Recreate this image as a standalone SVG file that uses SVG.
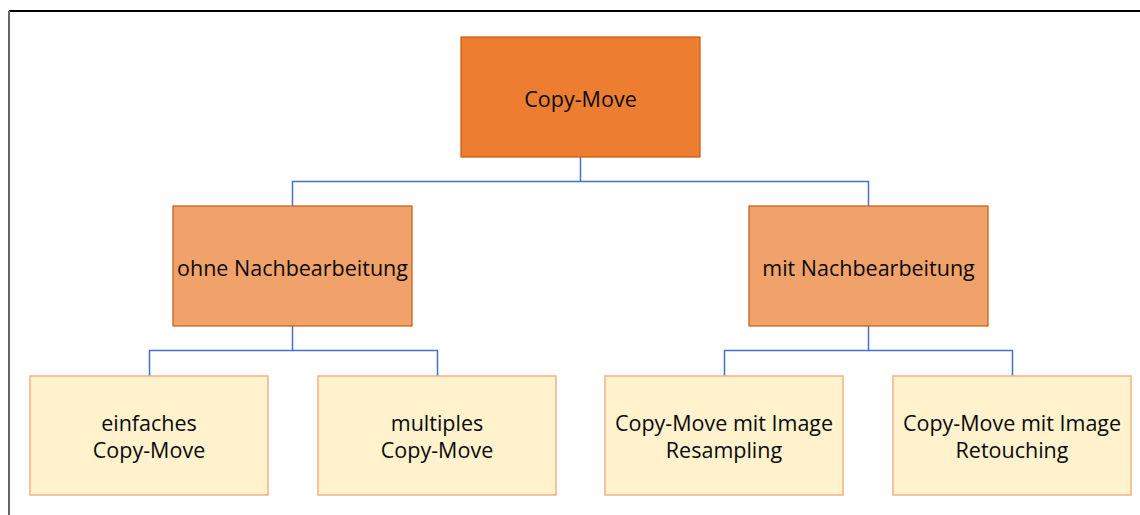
<svg xmlns="http://www.w3.org/2000/svg" width="1140" height="515" viewBox="0 0 1140 515">
  <style>
    .lvl0 { fill: #ED7D31; stroke: #C55A11; stroke-width: 1.2; }
    .lvl1 { fill: #F1A26B; stroke: #C55A11; stroke-width: 1.2; }
    .lvl2 { fill: #FFF2CC; stroke: #F4B183; stroke-width: 1.5; }
    .label { font-family: "Open Sans", "Liberation Sans", sans-serif; font-size: 21.5px; fill: #0a0a0a; text-anchor: middle; dominant-baseline: central; }
    .edge { fill: none; stroke: #4472C4; stroke-width: 1.5; }
  </style>
  <rect x="0" y="0" width="1140" height="515" fill="#ffffff"/>
  <!-- frame -->
  <line x1="9" y1="11" x2="1140" y2="11" stroke="#000000" stroke-width="2"/>
  <line x1="9" y1="11" x2="9" y2="515" stroke="#666666" stroke-width="2"/>

  <g id="connectors">
    <path class="edge" d="M580.5 157 V181.5 H292.5 V206 M580.5 181.5 H868.5 V206"/>
    <path class="edge" d="M292.5 326 V350.5 H149.5 V376 M292.5 350.5 H437.5 V376"/>
    <path class="edge" d="M868.5 326 V350.5 H724.5 V376 M868.5 350.5 H1012.5 V376"/>
  </g>

  <g id="copy-move">
    <rect class="lvl0" x="461" y="37" width="239" height="120"/>
    <text class="label" x="580.5" y="98">Copy-Move</text>
  </g>
  <g id="ohne-nachbearbeitung">
    <rect class="lvl1" x="173" y="206" width="239" height="120"/>
    <text class="label" x="292.5" y="267">ohne Nachbearbeitung</text>
  </g>
  <g id="mit-nachbearbeitung">
    <rect class="lvl1" x="749" y="206" width="239" height="120"/>
    <text class="label" x="868.5" y="267">mit Nachbearbeitung</text>
  </g>
  <g id="einfaches">
    <rect class="lvl2" x="30" y="376" width="238" height="119"/>
    <text class="label" x="149" y="422">einfaches</text>
    <text class="label" x="149" y="449">Copy-Move</text>
  </g>
  <g id="multiples">
    <rect class="lvl2" x="318" y="376" width="238" height="119"/>
    <text class="label" x="437" y="422">multiples</text>
    <text class="label" x="437" y="449">Copy-Move</text>
  </g>
  <g id="resampling">
    <rect class="lvl2" x="605" y="376" width="238" height="119"/>
    <text class="label" x="724" y="422">Copy-Move mit Image</text>
    <text class="label" x="724" y="449">Resampling</text>
  </g>
  <g id="retouching">
    <rect class="lvl2" x="893" y="376" width="238" height="119"/>
    <text class="label" x="1012" y="422">Copy-Move mit Image</text>
    <text class="label" x="1012" y="449">Retouching</text>
  </g>
</svg>
